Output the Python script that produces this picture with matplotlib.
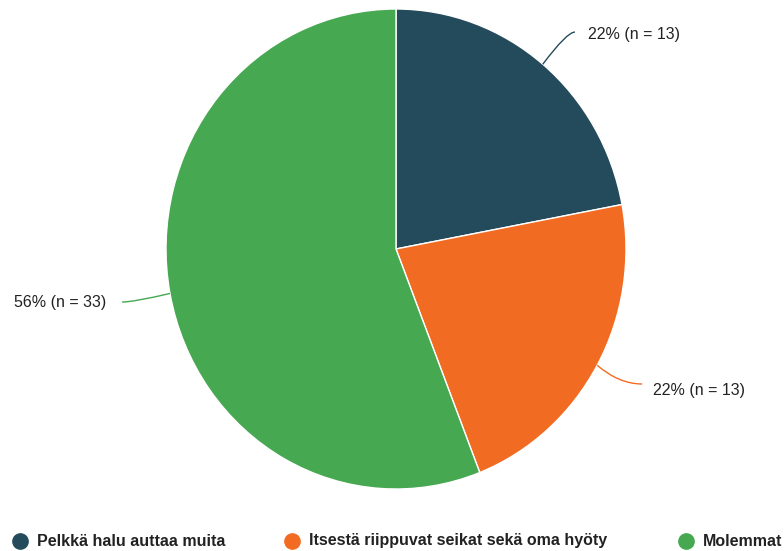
import matplotlib
matplotlib.use("Agg")
import matplotlib.pyplot as plt
from matplotlib.path import Path
from matplotlib.patches import PathPatch
import numpy as np

plt.rcParams['font.family'] = ['Liberation Sans', 'DejaVu Sans']

categories = ["Pelkkä halu auttaa muita", "Itsestä riippuvat seikat sekä oma hyöty", "Molemmat"]
counts = [13, 13, 33]
percents = [22, 22, 56]
colors = ["#234B5B", "#F26B22", "#46A851"]

W, H = 784, 551
fig = plt.figure(figsize=(W / 100, H / 100), dpi=100)
cx, cy, Rx, Ry = 396, 249, 230, 240
ax = fig.add_axes([(cx - Rx) / W, (H - cy - Ry) / H, 2 * Rx / W, 2 * Ry / H])

wedges, _ = ax.pie(counts, colors=colors, startangle=90, counterclock=False,
                   radius=1, wedgeprops=dict(edgecolor='white', linewidth=1.0))
ax.set_xlim(-1, 1)
ax.set_ylim(-1, 1)
ax.set_aspect('auto')
ax.axis('off')

# label layout (end of connector, text anchor)
layout = [
    dict(end=(0.778, 0.904), ctrl_dx=-0.035, text=(0.835, 0.892), ha='left'),
    dict(end=(1.070, -0.5625), ctrl_dx=-0.10, text=(1.117, -0.5875), ha='left'),
    dict(end=(-1.191, -0.221), ctrl_dx=0.05, text=(-1.261, -0.225), ha='right'),
]
for w, c, n, p, lay in zip(wedges, colors, counts, percents, layout):
    mid = np.deg2rad((w.theta1 + w.theta2) / 2)
    start = (np.cos(mid) * 1.0, np.sin(mid) * 1.0)
    ex, ey = lay['end']
    ctrl = (ex + lay['ctrl_dx'], ey)
    path = Path([start, ctrl, (ex, ey)], [Path.MOVETO, Path.CURVE3, Path.CURVE3])
    ax.add_patch(PathPatch(path, fill=False, edgecolor=c, lw=1.0, clip_on=False))
    ax.text(lay['text'][0], lay['text'][1], f"{p}% (n = {n})", ha=lay['ha'], va='center',
            fontsize=11.5, color='#222222', clip_on=False)

# legend
lx = [20, 292, 686]
ly = 541
overlay = fig.add_axes([0, 0, 1, 1])
overlay.set_xlim(0, W)
overlay.set_ylim(H, 0)
overlay.axis('off')
for x, c, lab in zip(lx, colors, categories):
    overlay.plot([x], [ly], marker='o', markersize=11, color=c, linestyle='none')
    overlay.text(x + 17, ly, lab, ha='left', va='center', fontsize=11.5, fontweight='bold', color='#222222')

fig.savefig("out.png", dpi=100)
